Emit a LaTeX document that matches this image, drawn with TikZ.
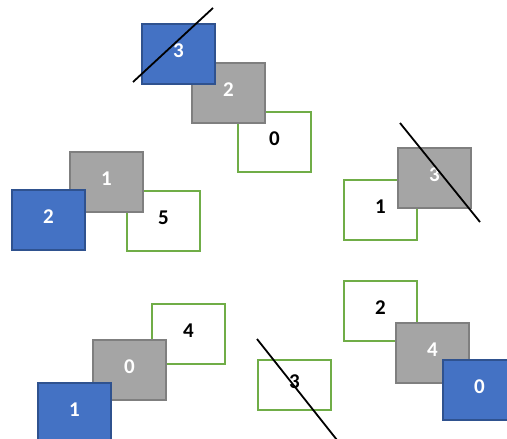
\documentclass[tikz,border=0pt]{standalone}
\usepackage{fontspec}
\setmainfont{Carlito}
\definecolor{oblue}{HTML}{4472C4}
\definecolor{obluedark}{HTML}{2F528F}
\definecolor{ogray}{HTML}{A5A5A5}
\definecolor{ograydark}{HTML}{7F7F7F}
\definecolor{ogreen}{HTML}{70AD47}
\begin{document}
\begin{tikzpicture}[x=1pt,y=-1pt,
  card/.style={rectangle,anchor=north west,inner sep=0pt,minimum width=73pt,minimum height=60pt,
    line width=1.8pt,font=\bfseries\fontsize{21}{21}\selectfont,text depth=6pt},
  bluecard/.style={card,fill=oblue,draw=obluedark,text=white},
  graycard/.style={card,fill=ogray,draw=ograydark,text=white},
  greencard/.style={card,fill=white,draw=ogreen,text=black},
  slash/.style={line width=1.8pt,black}]
\useasboundingbox (0,0) rectangle (507,439);
\clip (0,0) rectangle (507,439);
% group top
\node[greencard] (g0a) at (237,111) {0};
\node[graycard] (y2a) at (191,62) {2};
\node[bluecard] (b3a) at (141,23) {3};
\coordinate (s1a) at (133,82);
\coordinate (s1b) at (213,8);
\draw[slash] (s1a) -- (s1b);
% group left
\node[greencard] (g5) at (126,190) {5};
\node[graycard] (y1) at (69,151) {1};
\node[bluecard] (b2) at (11,189) {2};
% group right
\node[greencard] (g1) at (343,179) {1};
\node[graycard] (y3) at (397,147) {3};
\coordinate (s2a) at (400,123);
\coordinate (s2b) at (480,222);
\draw[slash] (s2a) -- (s2b);
% group bottom left
\node[greencard] (g4) at (151,303) {4};
\node[graycard] (y0) at (92,339) {0};
\node[bluecard] (b1) at (37,382) {1};
% group bottom right
\node[greencard] (g2) at (343,280) {2};
\node[graycard] (y4) at (395,322) {4};
\node[bluecard] (b0) at (442,359) {0};
\node[greencard,minimum height=50pt] (g3) at (257,359) {3};
\coordinate (s3a) at (257,339);
\coordinate (s3b) at (337,440);
\draw[slash] (s3a) -- (s3b);
\end{tikzpicture}
\end{document}
